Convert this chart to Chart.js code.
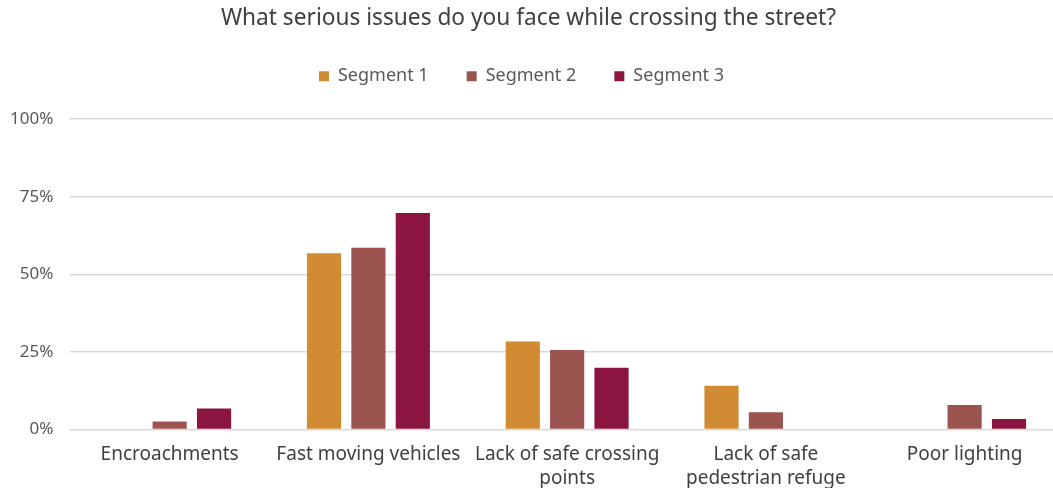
<!DOCTYPE html>
<html>
<head>
<meta charset="utf-8">
<script src="https://cdn.jsdelivr.net/npm/chart.js@4"></script>
<style>
    html, body { margin: 0; padding: 0; background: #fff; overflow: hidden; }
    /* plot runs a little past the right edge of the window, as in the original */
    #wrap { width: 1064px; height: 488px; position: relative; }
</style>
</head>
<body>
<div id="wrap"><canvas id="ctx"></canvas></div>
<script>
// issues asked about, as printed on the x axis
const categories = [
    'Encroachments',
    'Fast moving vehicles',
    ['Lack of safe crossing', 'points'],
    ['Lack of safe', 'pedestrian refuge'],
    'Poor lighting'
];
const segmentNames = ['Segment 1', 'Segment 2', 'Segment 3'];
// share of respondents, 0..1
const segment1 = [0, 0.568, 0.284, 0.141, 0];
const segment2 = [0.026, 0.586, 0.256, 0.056, 0.079];
const segment3 = [0.068, 0.698, 0.199, 0, 0.034];
const yTicks = [0, 0.25, 0.5, 0.75, 1];

const colors = ['#d08b33', '#9c5450', '#8b1540'];
const fontFamily = '"Noto Sans", "Open Sans", sans-serif';

// extra room between the legend and the plot, and nudge it a bit left
const legendSpacer = {
    id: 'legendSpacer',
    beforeInit(chart) {
        const legend = chart.legend;
        const fit = legend.fit;
        const draw = legend.draw;
        legend.fit = function () {
            fit.call(this);
            this.height += 24;
        };
        legend.draw = function () {
            this.right -= 14;
            draw.call(this);
            this.right += 14;
        };
    }
};

let datasets = [segment1, segment2, segment3].map((values, i) => ({
    label: segmentNames[i],
    data: values,
    backgroundColor: colors[i],
    borderWidth: 0,
    categoryPercentage: 0.67,
    barPercentage: 0.77
}));

new Chart(document.getElementById('ctx'), {
    type: 'bar',
    data: {
        labels: categories,
        datasets: datasets
    },
    plugins: [legendSpacer],
    options: {
        responsive: true,
        maintainAspectRatio: false,
        animation: false,
        layout: {
            padding: {left: -7, right: 0, top: 0, bottom: -15}
        },
        plugins: {
            title: {
                display: true,
                text: 'What serious issues do you face while crossing the street?',
                color: '#404040',
                font: {family: fontFamily, size: 22.7, weight: 'normal'},
                padding: {top: 5, bottom: -3}
            },
            legend: {
                position: 'top',
                labels: {
                    boxWidth: 10,
                    boxHeight: 10,
                    padding: 38,
                    color: '#595959',
                    font: {family: fontFamily, size: 18}
                }
            },
            tooltip: {enabled: false}
        },
        scales: {
            x: {
                grid: {display: false, drawTicks: false},
                border: {display: false},
                ticks: {
                    color: '#404040',
                    font: {family: fontFamily, size: 19, lineHeight: 1.25},
                    maxRotation: 0,
                    autoSkip: false,
                    padding: 13
                }
            },
            y: {
                min: 0,
                max: 1,
                afterBuildTicks: axis => {
                    axis.ticks = yTicks.map(v => ({value: v}));
                },
                grid: {color: '#d9d9d9', lineWidth: 1.5, drawTicks: false},
                border: {display: false},
                ticks: {
                    color: '#595959',
                    font: {family: fontFamily, size: 17},
                    padding: 17,
                    callback: v => Math.round(v * 100) + '%'
                }
            }
        }
    }
});
</script>
</body>
</html>
